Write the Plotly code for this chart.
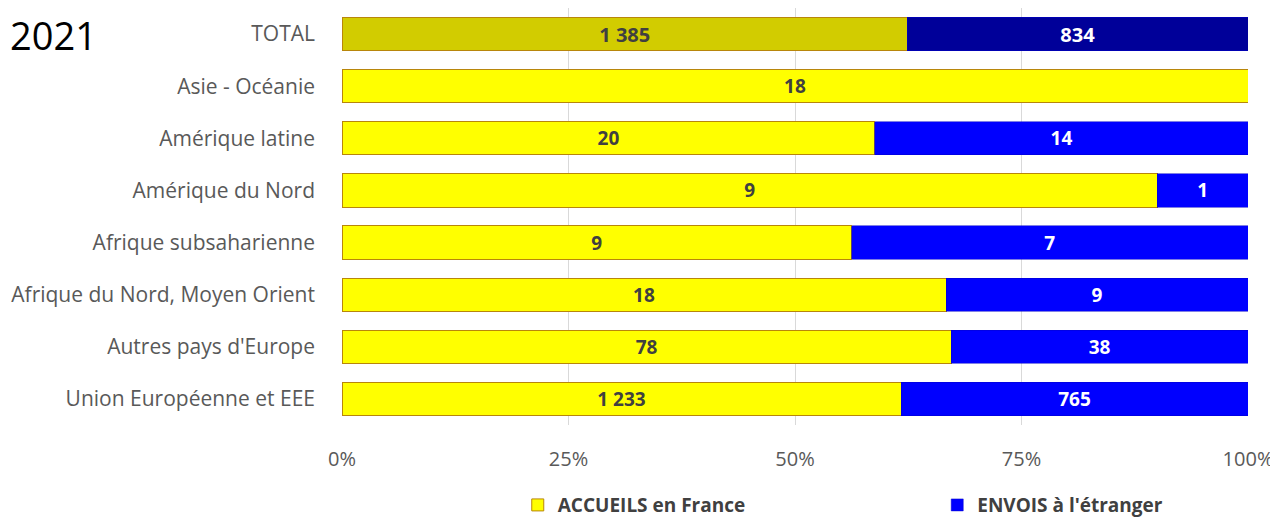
import plotly.graph_objects as go

categories = ["Union Européenne et EEE", "Autres pays d'Europe", "Afrique du Nord, Moyen Orient",
              "Afrique subsaharienne", "Amérique du Nord", "Amérique latine", "Asie - Océanie", "TOTAL"]
accueils = [1233, 78, 18, 9, 9, 20, 18, 1385]
envois = [765, 38, 9, 7, 1, 14, 0, 834]
x_ticks = [0, 25, 50, 75, 100]
x_tick_labels = ["0%", "25%", "50%", "75%", "100%"]

def fmt(v):
    return "" if v == 0 else f"{v:,}".replace(",", " ")

n = len(categories)
acc_colors = ["#FFFF00"] * (n - 1) + ["#D2CC00"]
env_colors = ["#0000FF"] * (n - 1) + ["#000099"]
sizes = [19] * (n - 1) + [22]

FONT = "Open Sans"

fig = go.Figure()
fig.add_trace(go.Bar(
    y=categories, x=accueils, orientation="h", name="ACCUEILS en France",
    marker=dict(color=acc_colors, line=dict(color="#B8860B", width=1)),
    text=[fmt(v) for v in accueils], textposition="inside", insidetextanchor="middle",
    textfont=dict(family=FONT, size=sizes, color="#404040", weight="bold"),
    hoverinfo="skip", legend="legend", showlegend=True,
))
fig.add_trace(go.Bar(
    y=categories, x=envois, orientation="h", name="ENVOIS à l'étranger",
    marker=dict(color=env_colors, line=dict(color="#0000CC", width=0.5)),
    text=[fmt(v) for v in envois], textposition="inside", insidetextanchor="middle",
    textfont=dict(family=FONT, size=sizes, color="white", weight="bold"),
    hoverinfo="skip", legend="legend2", showlegend=True,
))

legend_font = dict(family=FONT, size=19, color="#404040", weight="bold")

fig.update_layout(
    width=1278, height=519, showlegend=True,
    barmode="stack", barnorm="percent", bargap=0.36,
    paper_bgcolor="white", plot_bgcolor="white",
    margin=dict(l=334, r=38, t=0, b=102),
    font=dict(family=FONT, color="#595959"),
    xaxis=dict(range=[0, 100], tickvals=x_ticks, ticktext=x_tick_labels,
               showgrid=True, gridcolor="#D9D9D9", gridwidth=1, zeroline=False,
               showline=False, tickfont=dict(family=FONT, size=20, color="#595959"),
               ticklabelstandoff=20, automargin=False),
    yaxis=dict(range=[-0.5, n - 0.5], showgrid=False, showline=False, zeroline=False,
               tickfont=dict(family=FONT, size=21, color="#595959"), ticklabelstandoff=26,
               automargin=False),
    legend=dict(orientation="h", x=0.194, xanchor="left", y=-0.192, yanchor="middle",
                font=legend_font, visible=True),
    legend2=dict(orientation="h", x=0.657, xanchor="left", y=-0.192, yanchor="middle",
                 font=legend_font, visible=True),
    annotations=[dict(text="2021", xref="paper", yref="paper", x=-0.368, y=1.0,
                      xanchor="left", yanchor="top", showarrow=False, borderpad=0,
                      font=dict(family=FONT, size=38, color="#000000"))],
)

fig.write_html("out.html")
